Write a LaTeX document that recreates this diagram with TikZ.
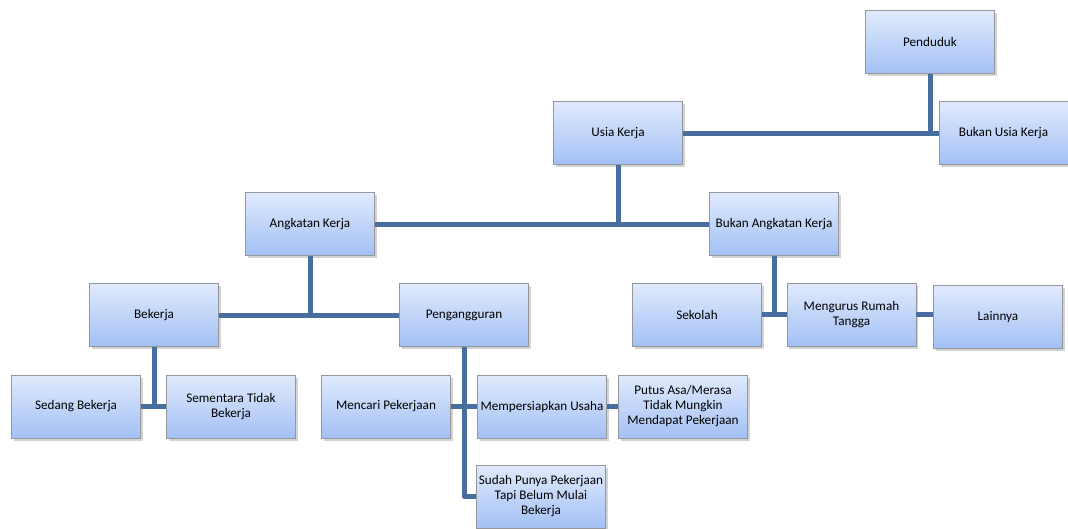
\documentclass[tikz,border=0pt]{standalone}
\usepackage{fontspec}
\setmainfont{Carlito}
\usetikzlibrary{shadows}
\definecolor{conncol}{RGB}{72,110,160}
\definecolor{boxtop}{RGB}{224,234,252}
\definecolor{boxbot}{RGB}{163,192,245}
\definecolor{boxline}{RGB}{150,150,155}
\tikzset{
  box/.style={draw=boxline, line width=0.8pt, top color=boxtop, bottom color=boxbot,
    minimum width=129pt, minimum height=63pt, inner sep=0pt, align=center,
    font=\fontsize{13.2}{15}\selectfont,
    drop shadow={opacity=0.35, shadow xshift=2pt, shadow yshift=-2.5pt}},
  conn/.style={draw=conncol, line width=5pt}
}
\begin{document}
\begin{tikzpicture}[x=1pt,y=-1pt]
\useasboundingbox (0,0) rectangle (1068,528);
\node[box] (pend) at (930,42) {Penduduk};
\node[box] (buk) at (1003.5,133) {Bukan Usia Kerja};
\node[box] (usia) at (618,133) {Usia Kerja};
\node[box] (bak) at (774,224) {Bukan Angkatan Kerja};
\node[box] (ak) at (310,224) {Angkatan Kerja};
\node[box] (bek) at (154,315) {Bekerja};
\node[box] (peng) at (464,315) {Pengangguran};
\node[box] (sed) at (76,406.5) {Sedang Bekerja};
\node[box] (sem) at (231,406.5) {Sementara Tidak\\Bekerja};
\node[box] (menc) at (386,406.5) {Mencari Pekerjaan};
\node[box] (memp) at (542,406.5) {Mempersiapkan Usaha};
\node[box] (putus) at (683,406.5) {Putus Asa/Merasa\\Tidak Mungkin\\Mendapat Pekerjaan};
\node[box] (sudah) at (541,496.5) {Sudah Punya Pekerjaan\\Tapi Belum Mulai\\Bekerja};
\node[box] (sek) at (697,314.5) {Sekolah};
\node[box] (meng) at (851.5,314.5) {Mengurus Rumah\\Tangga};
\node[box] (lain) at (998,317) {Lainnya};
% connectors
\draw[conn] (usia.east) -- (buk.west);
\draw[conn] (pend.south) -- (pend.south |- buk.west);
\draw[conn] (ak.east) -- (bak.west);
\draw[conn] (usia.south) -- (usia.south |- bak.west);
\draw[conn] (bek.east) -- (peng.west);
\draw[conn] (ak.south) -- (ak.south |- peng.west);
\draw[conn] (sed.east) -- (sem.west);
\draw[conn] (bek.south) -- (bek.south |- sem.west);
\draw[conn] (menc.east) -- (memp.west);
\draw[conn] (memp.east) -- (putus.west);
\draw[conn, line join=round] (peng.south) -- (peng.south |- sudah.west) -- (sudah.west);
\draw[conn] (sek.east) -- (meng.west);
\draw[conn] (bak.south) -- ([yshift=2pt]bak.south |- meng.west);
\draw[conn] (meng.east) -- (meng.east -| lain.west);
\end{tikzpicture}
\end{document}
